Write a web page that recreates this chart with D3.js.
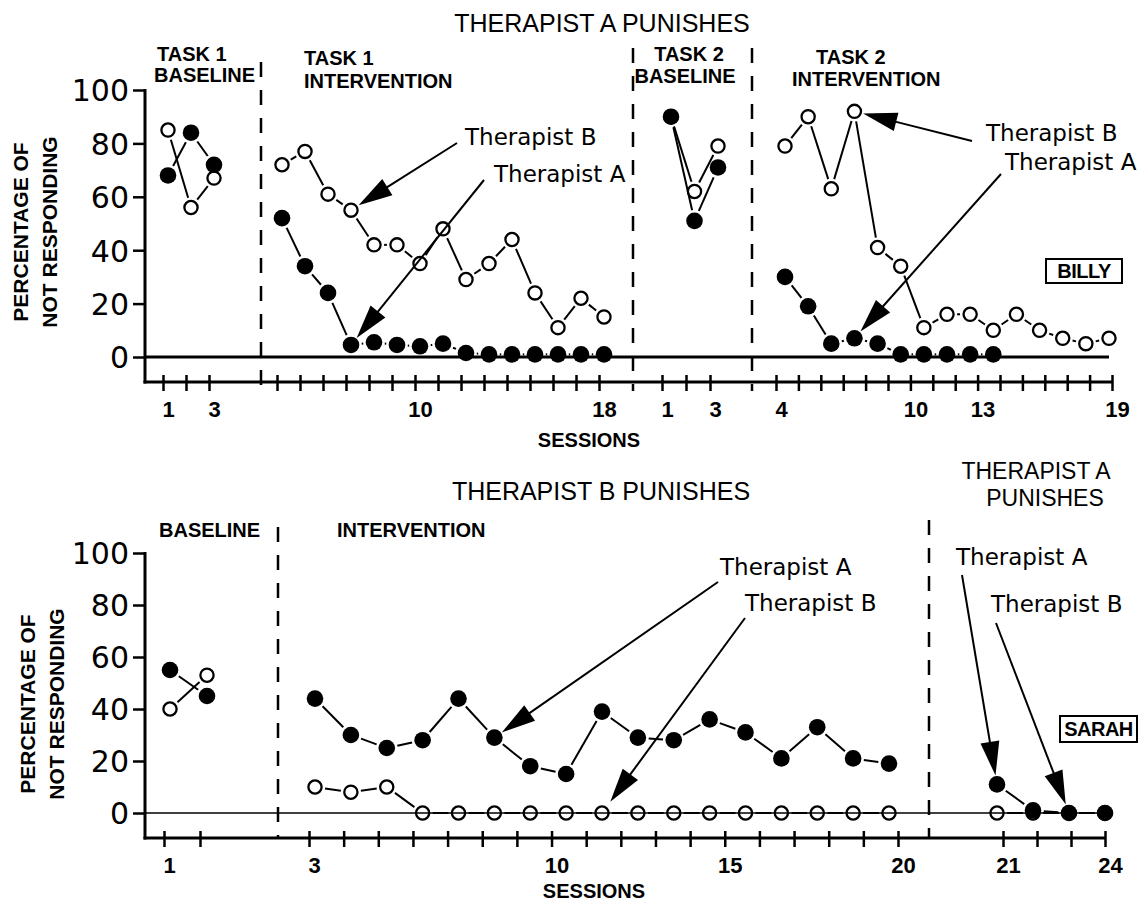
<!DOCTYPE html>
<html>
<head>
<meta charset="utf-8">
<script src="https://cdn.jsdelivr.net/npm/d3@7"></script>
<style>
  body { margin: 0; background: #fff; }
  svg { display: block; background: #fff; }
</style>
</head>
<body>
<svg width="1142" height="901"></svg>
<script>
// values, A = Therapist A (filled), B = Therapist B (open)

// Billy - Therapist A punishes
const billyT1BaseSessions = [1, 2, 3]
const billyT1BaseA = [68, 84, 72]
const billyT1BaseB = [85, 56, 67]

const billyT1IntSessions = [4, 5, 6, 7, 8, 9, 10, 11, 12, 13, 14, 15, 16, 17, 18]
const billyT1IntA = [52, 34, 24, 4.5, 5.5, 4.5, 4, 5, 1.5, 1, 1, 1, 1, 1, 1]
const billyT1IntB = [72, 77, 61, 55, 42, 42, 35, 48, 29, 35, 44, 24, 11, 22, 15]

const billyT2BaseSessions = [1, 2, 3]
const billyT2BaseA = [90, 51, 71]
const billyT2BaseB = [90, 62, 79]

const billyT2IntSessions = [4, 5, 6, 7, 8, 9, 10, 11, 12, 13, 14, 15, 16, 17, 18]
const billyT2IntA = [30, 19, 5, 7, 5, 1, 1, 1, 1, 1]
const billyT2IntB = [79, 90, 63, 92, 41, 34, 11, 16, 16, 10, 16, 10, 7, 5, 7]

// Sarah - Therapist B punishes, then Therapist A punishes
const sarahBaseSessions = [1, 2]
const sarahBaseA = [55, 45]
const sarahBaseB = [40, 53]

const sarahIntSessions = [3, 4, 5, 6, 7, 8, 9, 10, 11, 12, 13, 14, 15, 16, 17, 18, 19]
const sarahIntA = [44, 30, 25, 28, 44, 29, 18, 15, 39, 29, 28, 36, 31, 21, 33, 21, 19]
const sarahIntB = [10, 8, 10, 0, 0, 0, 0, 0, 0, 0, 0, 0, 0, 0, 0, 0, 0]

const sarahSwapSessions = [21, 22, 23, 24]
const sarahSwapA = [11, 1, 0, 0]
const sarahSwapB = [0, 0, 0, 0]

// first/last tick of each phase and the ticks that carry a label
const billyTickSpan = [[1, 3], [4, 18], [1, 3], [4, 19]]
const billyTickLabels = [[1, 3], [10, 18], [1, 3], [4, 10, 13, 19]]
const sarahTickSpan = [[1, 2], [3, 20], [21, 24]]
const sarahTickLabels = [[1], [3, 10, 15, 20], [21, 24]]

const yTicks = [0, 20, 40, 60, 80, 100]

const billyPhases = [
  {sessions: billyT1BaseSessions, A: billyT1BaseA, B: billyT1BaseB},
  {sessions: billyT1IntSessions, A: billyT1IntA, B: billyT1IntB},
  {sessions: billyT2BaseSessions, A: billyT2BaseA, B: billyT2BaseB},
  {sessions: billyT2IntSessions, A: billyT2IntA, B: billyT2IntB}
].map((p, i) => ({...p, ticks: billyTickSpan[i], labels: billyTickLabels[i]}))

const sarahPhases = [
  {sessions: sarahBaseSessions, A: sarahBaseA, B: sarahBaseB},
  {sessions: sarahIntSessions, A: sarahIntA, B: sarahIntB},
  {sessions: sarahSwapSessions, A: sarahSwapA, B: sarahSwapB}
].map((p, i) => ({...p, ticks: sarahTickSpan[i], labels: sarahTickLabels[i]}))

// ---- layout ----
const SANS = 'Liberation Sans, Arial, sans-serif'
const ROUND = 'DejaVu Sans, Verdana, sans-serif'

const billyLayout = {
  top: 90, zeroY: 357, axisY: 382, left: 145, right: 1112, zeroRight: 1109, zeroWidth: 3,
  tickPx: [[163, 209], [277, 599], [662, 710], [776, 1112]],
  pointPx: [[168, 214], [282, 604], [671, 718], [785, 1109]],
  phaseX: [261, 633, 752], phaseTop: [62, 48, 48], phaseBottom: 391,
  ylab: [28, 57], ylabY: 232,
  box: {text: 'BILLY', x: 1046, y: 259, w: 76, h: 24},
  sessionsX: 589, sessionsY: 447
}
const sarahLayout = {
  top: 553, zeroY: 813, axisY: 838, left: 145, right: 1105, zeroRight: 1105, zeroWidth: 1.6,
  tickPx: [[164, 200], [309, 898], [1003, 1105]],
  pointPx: [[170, 207], [315, 889], [997, 1105]],
  phaseX: [278, 929], phaseTop: [527, 520], phaseBottom: 838,
  ylab: [35, 64], ylabY: 704,
  box: {text: 'SARAH', x: 1060, y: 716, w: 77, h: 26},
  sessionsX: 594, sessionsY: 898
}

const billyNotes = [
  {text: 'Therapist B', tx: 465, ty: 145, sx: 457, sy: 143, phase: 1, key: 'B', idx: 3},
  {text: 'Therapist A', tx: 494, ty: 182, sx: 484, sy: 180, phase: 1, key: 'A', idx: 3},
  {text: 'Therapist B', tx: 986, ty: 141, sx: 972, sy: 141, phase: 3, key: 'B', idx: 3},
  {text: 'Therapist A', tx: 1005, ty: 170, sx: 1001, sy: 174, phase: 3, key: 'A', idx: 3}
]
const sarahNotes = [
  {text: 'Therapist A', tx: 720, ty: 575, sx: 718, sy: 582, phase: 1, key: 'A', idx: 5},
  {text: 'Therapist B', tx: 745, ty: 611, sx: 745, sy: 618, phase: 1, key: 'B', idx: 8, gap: 14},
  {text: 'Therapist A', tx: 956, ty: 565, sx: 962, sy: 575, phase: 2, key: 'A', idx: 0},
  {text: 'Therapist B', tx: 991, ty: 612, sx: 996, sy: 623, phase: 2, key: 'B', idx: 2}
]

const svg = d3.select('svg')
const R_FILL = 8.3
const R_OPEN = 6.6

// line pieces between markers, cut short so a small gap is left at each marker
function pieces(pts, cut) {
  const out = []
  for (let j = 1; j < pts.length; j++) {
    const [x1, y1] = pts[j - 1], [x2, y2] = pts[j]
    const len = Math.hypot(x2 - x1, y2 - y1)
    if (len <= 2 * cut + 1) continue
    const ux = (x2 - x1) / len, uy = (y2 - y1) / len
    out.push([x1 + ux * cut, y1 + uy * cut, x2 - ux * cut, y2 - uy * cut])
  }
  return out
}

function drawPanel(phases, L, notes) {
  const g = svg.append('g')
  const y = d3.scaleLinear().domain([0, 100]).range([L.zeroY, L.top])

  // zero reference line
  g.append('line')
    .attr('x1', L.left).attr('x2', L.zeroRight)
    .attr('y1', y(0)).attr('y2', y(0))
    .attr('stroke', '#000').attr('stroke-width', L.zeroWidth)

  // phase change lines
  g.selectAll('.phase').data(L.phaseX).join('line')
    .attr('x1', d => d).attr('x2', d => d)
    .attr('y1', (d, i) => L.phaseTop[i]).attr('y2', L.phaseBottom)
    .attr('stroke', '#000').attr('stroke-width', 2.5)
    .attr('stroke-dasharray', '15,13')

  // y axis
  const ya = g.append('g')
    .attr('transform', `translate(${L.left},0)`)
    .call(d3.axisLeft(y).tickValues(yTicks).tickSize(12).tickSizeOuter(0).tickPadding(4))
  ya.select('.domain').remove()
  ya.selectAll('.tick line').attr('stroke-width', 2.5)
  ya.selectAll('.tick text')
    .attr('font-family', ROUND).attr('font-size', 30).attr('dy', '0.36em')
  g.append('line')
    .attr('x1', L.left).attr('x2', L.left)
    .attr('y1', y(100) - 1).attr('y2', L.axisY + 1.5)
    .attr('stroke', '#000').attr('stroke-width', 3)

  // x axis line
  g.append('line')
    .attr('x1', L.left - 1.5).attr('x2', L.right)
    .attr('y1', L.axisY).attr('y2', L.axisY)
    .attr('stroke', '#000').attr('stroke-width', 3)

  const phaseScales = phases.map((p, i) => {
    const tx = d3.scaleLinear().domain(p.ticks).range(L.tickPx[i])
    const px = d3.scaleLinear()
      .domain([p.sessions[0], p.sessions[p.sessions.length - 1]])
      .range(L.pointPx[i])

    const xa = g.append('g')
      .attr('transform', `translate(0,${L.axisY})`)
      .call(d3.axisBottom(tx)
        .tickValues(d3.range(p.ticks[0], p.ticks[1] + 1))
        .tickSize(9).tickSizeOuter(0)
        .tickFormat(d => p.labels.includes(d) ? d : ''))
    xa.select('.domain').remove()
    xa.selectAll('.tick line').attr('y1', -7).attr('stroke-width', 2.5)
    xa.selectAll('.tick text')
      .attr('y', 35).attr('dy', 0).attr('x', 5)
      .attr('font-family', SANS).attr('font-weight', 'bold').attr('font-size', 22)
    return px
  })

  // series: open (B) first, filled (A) on top
  const ptsOf = (p, i, key) => p[key].map((v, j) => [phaseScales[i](p.sessions[j]), y(v)])

  phases.forEach((p, i) => {
    const pts = ptsOf(p, i, 'B')
    g.append('g').selectAll('line').data(pieces(pts, R_OPEN + 3.5)).join('line')
      .attr('x1', d => d[0]).attr('y1', d => d[1]).attr('x2', d => d[2]).attr('y2', d => d[3])
      .attr('stroke', '#000').attr('stroke-width', 2)
    g.append('g').selectAll('circle').data(pts).join('circle')
      .attr('cx', d => d[0]).attr('cy', d => d[1]).attr('r', R_OPEN)
      .attr('fill', 'none').attr('stroke', '#000').attr('stroke-width', 2.3)
  })
  phases.forEach((p, i) => {
    const pts = ptsOf(p, i, 'A')
    g.append('g').selectAll('line').data(pieces(pts, R_FILL + 2.5)).join('line')
      .attr('x1', d => d[0]).attr('y1', d => d[1]).attr('x2', d => d[2]).attr('y2', d => d[3])
      .attr('stroke', '#000').attr('stroke-width', 2)
    g.append('g').selectAll('circle').data(pts).join('circle')
      .attr('cx', d => d[0]).attr('cy', d => d[1]).attr('r', R_FILL)
      .attr('fill', '#000')
  })

  // annotations with arrows
  notes.forEach(n => {
    const p = phases[n.phase]
    const [mx, my] = [phaseScales[n.phase](p.sessions[n.idx]), y(p[n.key][n.idx])]
    const len = Math.hypot(mx - n.sx, my - n.sy)
    const ux = (mx - n.sx) / len, uy = (my - n.sy) / len
    const gap = n.gap || 9
    const tipX = mx - ux * gap, tipY = my - uy * gap
    const headLen = 34, half = 9.5
    const bx = tipX - ux * headLen, by = tipY - uy * headLen
    g.append('line')
      .attr('x1', n.sx).attr('y1', n.sy).attr('x2', bx + ux * 2).attr('y2', by + uy * 2)
      .attr('stroke', '#000').attr('stroke-width', 2)
    g.append('path')
      .attr('d', d3.line()([[tipX, tipY], [bx - uy * half, by + ux * half], [bx + uy * half, by - ux * half]]) + 'Z')
      .attr('fill', '#000')
    g.append('text')
      .attr('x', n.tx).attr('y', n.ty)
      .attr('font-family', ROUND).attr('font-size', 23)
      .text(n.text)
  })

  // y axis title
  ;['PERCENTAGE OF', 'NOT RESPONDING'].forEach((t, i) => {
    g.append('text')
      .attr('transform', `translate(${L.ylab[i]},${L.ylabY}) rotate(-90)`)
      .attr('text-anchor', 'middle')
      .attr('font-family', SANS).attr('font-weight', 'bold').attr('font-size', 21)
      .text(t)
  })

  g.append('text')
    .attr('x', L.sessionsX).attr('y', L.sessionsY)
    .attr('text-anchor', 'middle')
    .attr('font-family', SANS).attr('font-weight', 'bold').attr('font-size', 20)
    .text('SESSIONS')

  // name box
  g.append('rect')
    .attr('x', L.box.x).attr('y', L.box.y).attr('width', L.box.w).attr('height', L.box.h)
    .attr('fill', 'none').attr('stroke', '#000').attr('stroke-width', 2)
  g.append('text')
    .attr('x', L.box.x + L.box.w / 2).attr('y', L.box.y + L.box.h / 2 + 7)
    .attr('text-anchor', 'middle')
    .attr('font-family', SANS).attr('font-weight', 'bold').attr('font-size', 20)
    .attr('letter-spacing', -0.5)
    .text(L.box.text)

  return g
}

drawPanel(billyPhases, billyLayout, billyNotes)
drawPanel(sarahPhases, sarahLayout, sarahNotes)

// titles and phase labels
const heads = [
  {t: 'THERAPIST A PUNISHES', x: 602, y: 32, anchor: 'middle', size: 25, weight: 'normal'},
  {t: 'THERAPIST B PUNISHES', x: 601, y: 500, anchor: 'middle', size: 25, weight: 'normal'},
  {t: 'THERAPIST A', x: 1036, y: 479, anchor: 'middle', size: 23, weight: 'normal'},
  {t: 'PUNISHES', x: 1045, y: 506, anchor: 'middle', size: 23, weight: 'normal'},
  {t: 'TASK 1', x: 157, y: 61, anchor: 'start', size: 20, weight: 'bold'},
  {t: 'BASELINE', x: 154, y: 82, anchor: 'start', size: 20, weight: 'bold'},
  {t: 'TASK 1', x: 304, y: 65, anchor: 'start', size: 20, weight: 'bold'},
  {t: 'INTERVENTION', x: 304, y: 88, anchor: 'start', size: 20, weight: 'bold'},
  {t: 'TASK 2', x: 689, y: 61, anchor: 'middle', size: 20, weight: 'bold'},
  {t: 'BASELINE', x: 685, y: 83, anchor: 'middle', size: 20, weight: 'bold'},
  {t: 'TASK 2', x: 816, y: 64, anchor: 'start', size: 20, weight: 'bold'},
  {t: 'INTERVENTION', x: 792, y: 86, anchor: 'start', size: 20, weight: 'bold'},
  {t: 'BASELINE', x: 159, y: 537, anchor: 'start', size: 20, weight: 'bold'},
  {t: 'INTERVENTION', x: 337, y: 537, anchor: 'start', size: 20, weight: 'bold'}
]
svg.append('g').selectAll('text').data(heads).join('text')
  .attr('x', d => d.x).attr('y', d => d.y)
  .attr('text-anchor', d => d.anchor)
  .attr('font-family', SANS).attr('font-size', d => d.size).attr('font-weight', d => d.weight)
  .text(d => d.t)
</script>
</body>
</html>
